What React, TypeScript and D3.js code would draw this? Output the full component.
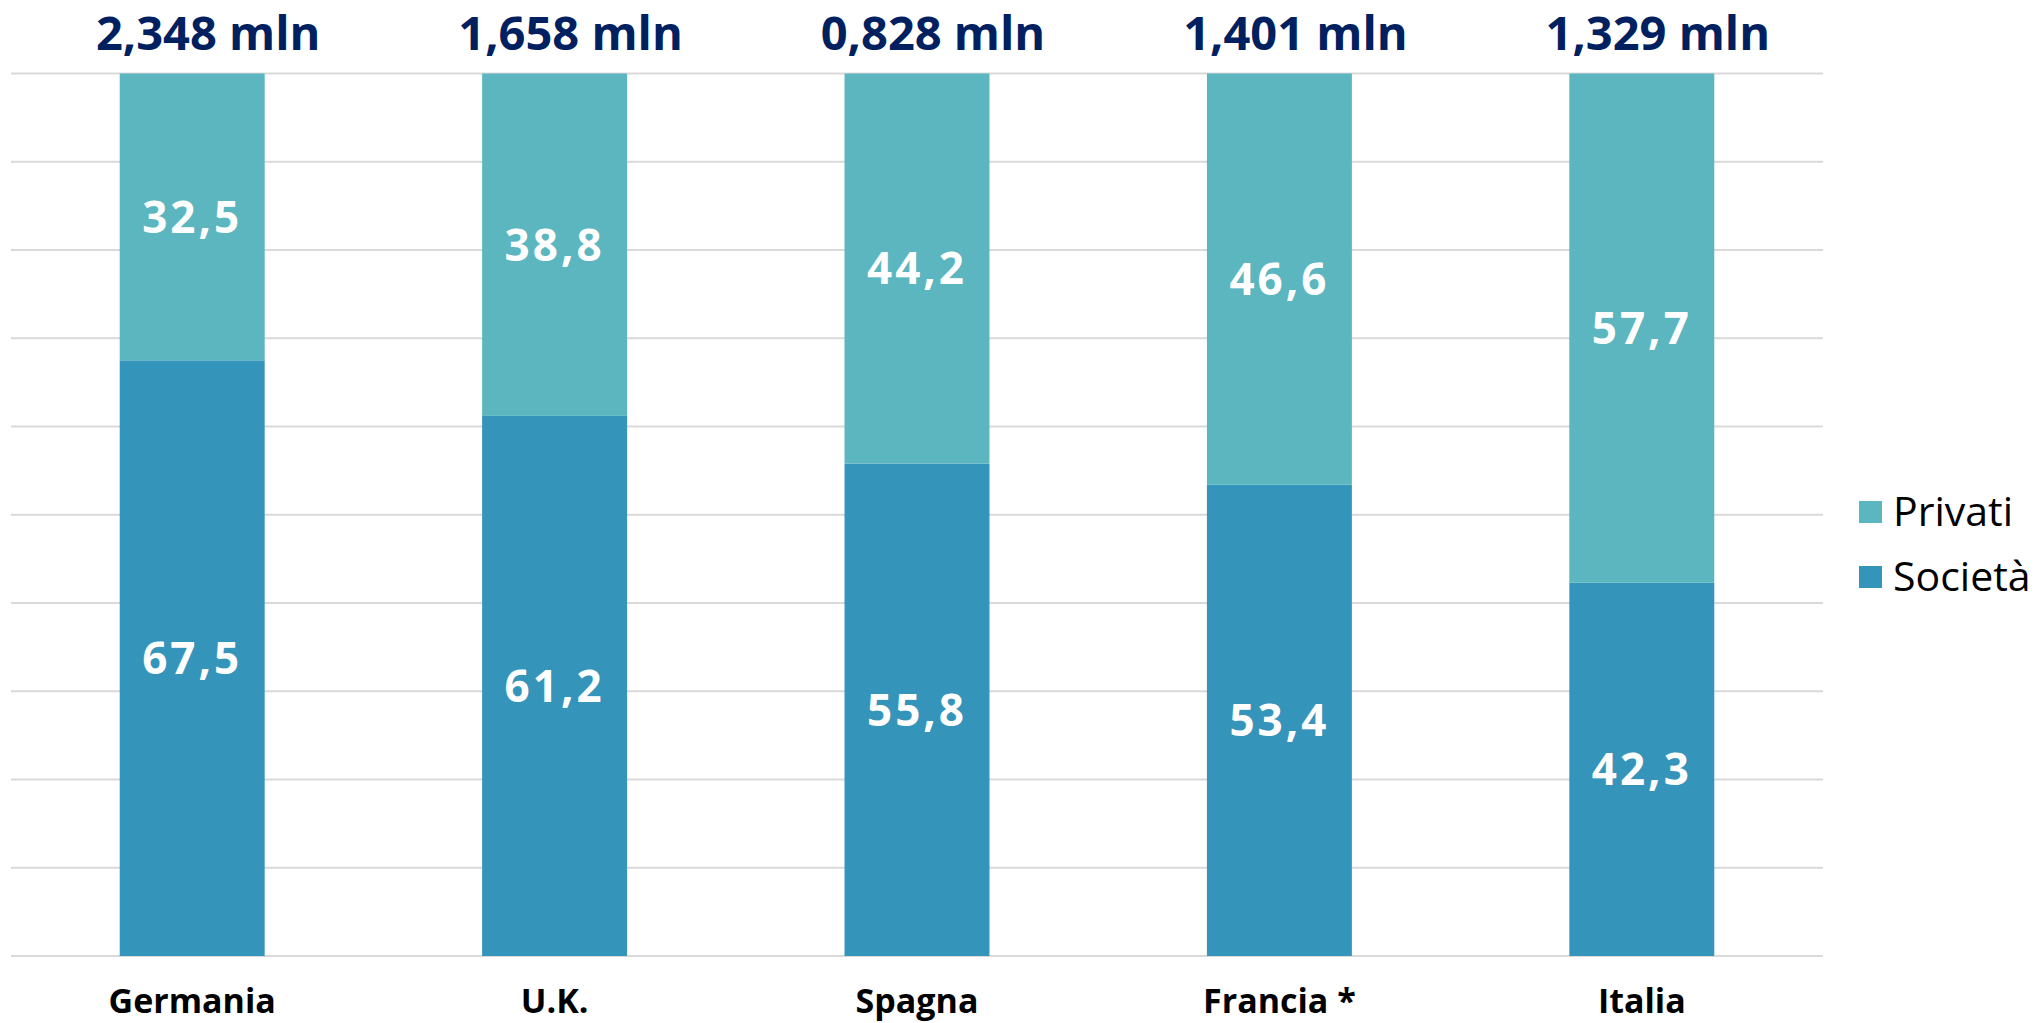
import React from "react";
import * as d3 from "d3";

const categories = ["Germania", "U.K.", "Spagna", "Francia *", "Italia"];
const societa = [67.5, 61.2, 55.8, 53.4, 42.3];
const privati = [32.5, 38.8, 44.2, 46.6, 57.7];
const totals = ["2,348 mln", "1,658 mln", "0,828 mln", "1,401 mln", "1,329 mln"];
const seriesNames = ["Privati", "Società"];
const yTicks = [0, 10, 20, 30, 40, 50, 60, 70, 80, 90, 100];

const W = 2036;
const H = 1023;
const COL_PRIV = "#5BB6C0";
const COL_SOC = "#3594BA";
const FONT = "'Open Sans', sans-serif";
const TOTAL_DX = 16;

const fmt = (v: number) => v.toFixed(1).replace(".", ",");

export default function App() {
  const left = 11, right = 1823, top = 73.5, bottom = 956;
  const x = d3.scaleBand<string>().domain(categories).range([left, right]).paddingInner(0.6).paddingOuter(0.3);
  const y = d3.scaleLinear().domain([0, 100]).range([bottom, top]);
  const bw = x.bandwidth();

  return (
    <svg width={W} height={H} style={{ position: "absolute", left: 0, top: 0, background: "#fff" }} fontFamily={FONT}>
      {yTicks.map((t) => (
        <line key={t} x1={left} x2={right} y1={y(t)} y2={y(t)} stroke="#d9d9d9" strokeWidth={2} />
      ))}
      {categories.map((c, i) => {
        const x0 = x(c)!;
        const cx = x0 + bw / 2;
        const s = societa[i];
        const p = privati[i];
        return (
          <g key={c}>
            <rect x={x0} y={y(s)} width={bw} height={y(0) - y(s)} fill={COL_SOC} />
            <rect x={x0} y={y(s + p)} width={bw} height={y(s) - y(s + p)} fill={COL_PRIV} />
            <text x={cx} y={(y(0) + y(s)) / 2} dy="0.36em" textAnchor="middle" fill="#fff" fontWeight={700} fontSize={44} letterSpacing={3}>
              {fmt(s)}
            </text>
            <text x={cx} y={(y(s) + y(s + p)) / 2} dy="0.36em" textAnchor="middle" fill="#fff" fontWeight={700} fontSize={44} letterSpacing={3}>
              {fmt(p)}
            </text>
            <text x={cx + TOTAL_DX} y={50} textAnchor="middle" fill="#002060" fontWeight={700} fontSize={47}>
              {totals[i]}
            </text>
            <text x={cx} y={1013} textAnchor="middle" fill="#000" fontWeight={700} fontSize={34}>
              {c}
            </text>
          </g>
        );
      })}
      {seriesNames.map((n, i) => (
        <g key={n} transform={`translate(1859, ${501 + i * 65})`}>
          <rect x={0} y={0} width={23} height={22} fill={i === 0 ? COL_PRIV : COL_SOC} />
          <text x={34} y={25} fontSize={41} fill="#000">{n}</text>
        </g>
      ))}
    </svg>
  );
}
